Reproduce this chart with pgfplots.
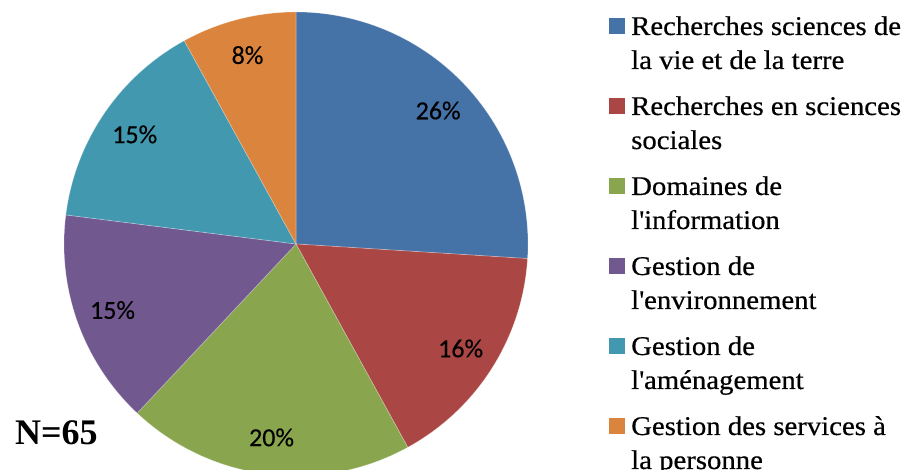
\documentclass[border=0pt]{standalone}
\usepackage{pgfplots}
\usepackage{pgfplotstable}
\pgfplotsset{compat=1.18}
\usepackage{fontspec}
\setmainfont{Liberation Serif}
\newfontfamily\legfont{Liberation Serif}[FakeStretch=1.065, FakeBold=0.5]
\newfontfamily\labelfont{Carlito}[FakeBold=0.3]

\definecolor{pieblue}{HTML}{4572A7}
\definecolor{piered}{HTML}{AA4643}
\definecolor{piegreen}{HTML}{89A54E}
\definecolor{piepurple}{HTML}{71588F}
\definecolor{pieteal}{HTML}{4198AF}
\definecolor{pieorange}{HTML}{DB843D}

% share of each domain, clockwise from 12 o'clock
\pgfplotstableread{
pct col
26 pieblue
16 piered
20 piegreen
15 piepurple
15 pieteal
8 pieorange
}\piedata

\begin{document}
\begin{tikzpicture}
\begin{axis}[
  width=908pt, height=470pt, scale only axis,
  xmin=0, xmax=908, ymin=0, ymax=470,
  hide axis,
]
\pgfmathsetmacro\cumpct{0}
\pgfplotsforeachungrouped \i in {0,...,5}{
  \pgfplotstablegetelem{\i}{pct}\of\piedata \let\sliceval\pgfplotsretval
  \pgfplotstablegetelem{\i}{col}\of\piedata \let\slicecol\pgfplotsretval
  \pgfmathsetmacro\angA{90-3.6*\cumpct}
  \pgfmathsetmacro\angB{90-3.6*(\cumpct+\sliceval)}
  \pgfmathsetmacro\angM{(\angA+\angB)/2}
  \edef\cmd{%
    \noexpand\fill[\slicecol, draw=white, draw opacity=0.3, line width=0.7pt]
      (axis cs:296,226) -- ++(\angA:232pt)
      arc[start angle=\angA, end angle=\angB, radius=232pt] -- cycle;
    \noexpand\path (axis cs:296,226) ++(\angM:195pt)
      node[font=\noexpand\labelfont\noexpand\fontsize{26}{30}\noexpand\selectfont]
      {\sliceval\noexpand\%};
  }\cmd
  \pgfmathsetmacro\cumpct{\cumpct+\sliceval}
}

% legend
\tikzset{leg/.style={anchor=base west, inner sep=0pt, font=\legfont\fontsize{27}{32}\selectfont}}
\fill[pieblue]   (axis cs:609,436) rectangle (axis cs:625,452);
\fill[piered]    (axis cs:609,356) rectangle (axis cs:625,372);
\fill[piegreen]  (axis cs:609,276) rectangle (axis cs:625,292);
\fill[piepurple] (axis cs:609,196) rectangle (axis cs:625,212);
\fill[pieteal]   (axis cs:609,116) rectangle (axis cs:625,132);
\fill[pieorange] (axis cs:609,36)  rectangle (axis cs:625,52);
\node[leg] at (axis cs:631,435) {Recherches sciences de};
\node[leg] at (axis cs:631,401) {la vie et de la terre};
\node[leg] at (axis cs:631,355) {Recherches en sciences};
\node[leg] at (axis cs:631,321) {sociales};
\node[leg] at (axis cs:631,275) {Domaines de};
\node[leg] at (axis cs:631,241) {l\textquotesingle information};
\node[leg] at (axis cs:631,195) {Gestion de};
\node[leg] at (axis cs:631,161) {l\textquotesingle environnement};
\node[leg] at (axis cs:631,115) {Gestion de};
\node[leg] at (axis cs:631,81)  {l\textquotesingle aménagement};
\node[leg] at (axis cs:631,35)  {Gestion des services à};
\node[leg] at (axis cs:631,1)   {la personne};

\node[anchor=base west, inner sep=0pt, font=\bfseries\fontsize{36}{40}\selectfont]
  at (axis cs:15,25) {N=65};
\end{axis}
\pgfresetboundingbox
\path[use as bounding box] (current axis.south west) rectangle (current axis.north east);
\end{tikzpicture}
\end{document}
